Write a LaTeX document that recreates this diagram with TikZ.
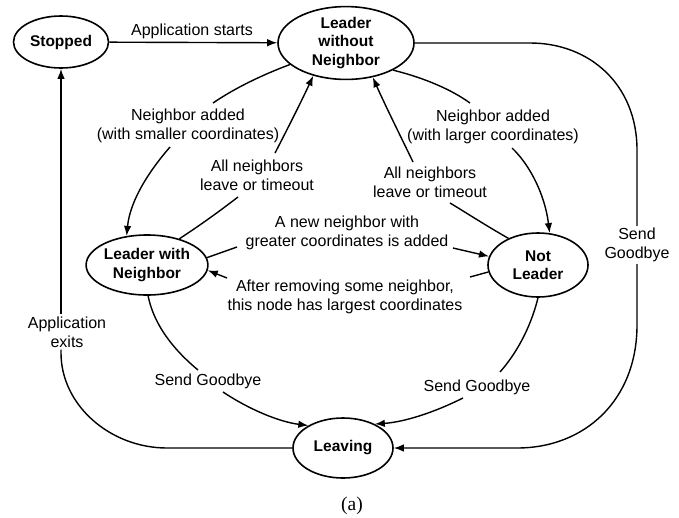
\documentclass[tikz,border=0pt]{standalone}
\usepackage{fontspec}
\setmainfont{Liberation Sans}
\newfontfamily\serifa{Liberation Serif}
\usetikzlibrary{shapes.geometric,arrows.meta}
\begin{document}
\begin{tikzpicture}[x=1pt,y=-1pt,
  state/.style={draw, ellipse, line width=1.6pt, inner sep=0pt, align=center,
    font=\fontsize{15.5}{18.5}\selectfont\bfseries},
  lbl/.style={font=\fontsize{16}{19}\selectfont, align=center, inner sep=2pt},
  ln/.style={line width=1.4pt},
  arr/.style={ln, -{Latex[length=10pt,width=7.5pt]}}]
\useasboundingbox (0,0) rectangle (679,517);

% states
\node[state, minimum width=95pt, minimum height=52pt] (stop) at (61,42) {Stopped};
\node[state, minimum width=136pt, minimum height=72pt] (lwo) at (346,43) {Leader\\without\\Neighbor};
\node[state, minimum width=120pt, minimum height=60pt] (lwn) at (147,265) {Leader with\\Neighbor};
\node[state, minimum width=100pt, minimum height=64pt] (nl) at (538,265) {Not\\Leader};
\node[state, minimum width=100pt, minimum height=60pt] (leave) at (343,448) {Leaving};

% labels
\node[lbl] (as) at (192,31) {Application starts};
\node[lbl] (nas) at (188,126) {Neighbor added\\(with smaller coordinates)};
\node[lbl] (nal) at (493,127) {Neighbor added\\(with larger coordinates)};
\node[lbl] (anl) at (257,175) {All neighbors\\leave or timeout};
\node[lbl] (anr) at (430,182) {All neighbors\\leave or timeout};
\node[lbl] (nn) at (347,233) {A new neighbor with\\greater coordinates is added};
\node[lbl] (ar) at (345,297) {After removing some neighbor,\\this node has largest coordinates};
\node[lbl] (sgl) at (208,381) {Send Goodbye};
\node[lbl] (sgr) at (477,387) {Send Goodbye};
\node[lbl] (sg) at (637,245) {Send\\Goodbye};
\node[lbl] (ae) at (67,332) {Application\\exits};
\node[font=\serifa\fontsize{19.5}{22}\selectfont] (cap) at (352,506) {(a)};

% label-side end points
\coordinate (nas-a) at (213,103);
\coordinate (nas-b) at (170,147);
\coordinate (anl-a) at (238,197);
\coordinate (anl-b) at (275,153);
\coordinate (nal-a) at (470,103);
\coordinate (nal-b) at (512,148);
\coordinate (anr-a) at (450,203);
\coordinate (anr-b) at (413,162);
\coordinate (nn-a) at (237,247);
\coordinate (nn-b) at (453,248);
\coordinate (ar-a) at (470,277);
\coordinate (ar-b) at (227,278);
\coordinate (sgl-a) at (198,370);
\coordinate (sgl-b) at (223,392);
\coordinate (sgr-a) at (500,372);
\coordinate (sgr-b) at (463,398);

% Stopped -> Leader without Neighbor
\draw[arr] (stop) -- (lwo);

% Leader without Neighbor -> Leaving (right loop)
\draw[ln] (lwo.east) -- (530,43) .. controls (590,43) and (637,85) .. (637,150) -- (sg.north);
\draw[arr] (sg.south) -- (637,325) .. controls (637,400) and (585,448) .. (517,448) -- (leave.east);

% Leaving -> Stopped
\draw[ln] (leave.west) -- (167,448) .. controls (110,448) and (61,405) .. (61,353) -- (ae.south -| stop.south);
\draw[arr] (ae.north -| stop.south) -- (stop.south);

% Leader without -> Leader with
\draw[ln] (lwo.201) .. controls (262,75) and (235,88) .. (nas-a);
\draw[arr] (nas-b) .. controls (150,170) and (130,200) .. (lwn.125);

% Leader with -> Leader without
\draw[ln] (lwn.39) .. controls (205,222) and (225,207) .. (anl-a);
\draw[arr] (anl-b) .. controls (288,128) and (302,100) .. (lwo.225);

% Leader without -> Not Leader
\draw[ln] (lwo.330) .. controls (425,78) and (452,90) .. (nal-a);
\draw[arr] (nal-b) .. controls (530,165) and (545,195) .. (nl.70);

% Not Leader -> Leader without
\draw[ln] (nl.138) .. controls (485,225) and (465,212) .. (anr-a);
\draw[arr] (anr-b) .. controls (400,135) and (385,105) .. (lwo.308);

% Leader with <-> Not Leader
\draw[ln] (lwn.7) -- (nn-a);
\draw[arr] (nn-b) -- (nl.170);
\draw[ln] (nl.188) -- (ar-a);
\draw[arr] (ar-b) -- (lwn.355);

% -> Leaving
\draw[ln] (lwn.272) .. controls (155,330) and (180,355) .. (sgl-a);
\draw[arr] (sgl-b) .. controls (250,410) and (280,422) .. (leave.147);
\draw[ln] (nl.south) .. controls (530,330) and (515,355) .. (sgr-a);
\draw[arr] (sgr-b) .. controls (435,412) and (405,422) .. (leave.37);
\end{tikzpicture}
\end{document}
